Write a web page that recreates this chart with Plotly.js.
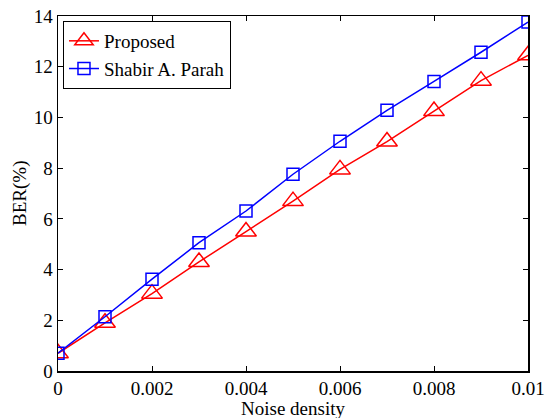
<!DOCTYPE html>
<html>
<head>
<meta charset="utf-8">
<script src="https://cdn.plot.ly/plotly-3.0.1.min.js"></script>
<style>html,body{margin:0;padding:0;background:#fff;}#chart{width:553px;height:418px;}</style>
</head>
<body>
<div id="chart"></div>
<script>
const noiseDensity = [0, 0.001, 0.002, 0.003, 0.004, 0.005, 0.006, 0.007, 0.008, 0.009, 0.01];
const proposedBER = [0.7, 1.9, 3.05, 4.3, 5.5, 6.7, 7.95, 9.05, 10.25, 11.45, 12.45];
const parahBER = [0.7, 2.14, 3.62, 5.06, 6.31, 7.76, 9.06, 10.28, 11.42, 12.57, 13.76];
const seriesNames = ["Proposed", "Shabir A. Parah"];
const xTicks = [0, 0.002, 0.004, 0.006, 0.008, 0.01];
const xTickLabels = ["0", "0.002", "0.004", "0.006", "0.008", "0.01"];
const yTicks = [0, 2, 4, 6, 8, 10, 12, 14];
const xTitle = "Noise density";
const yTitle = "BER(%)";

const font = {family: "Liberation Serif", size: 19, color: "#000"};

const traces = [
  {x: noiseDensity, y: proposedBER, name: seriesNames[0], type: "scatter", mode: "lines+markers",
   line: {color: "#ff0000", width: 1.5},
   marker: {symbol: "triangle-up-open", size: 18, color: "#ff0000", line: {width: 1.5, color: "#ff0000"}}},
  {x: noiseDensity, y: parahBER, name: seriesNames[1], type: "scatter", mode: "lines+markers",
   line: {color: "#0000ff", width: 1.5},
   marker: {symbol: "square-open", size: 12, color: "#0000ff", line: {width: 1.5, color: "#0000ff"}}}
];

const layout = {
  width: 553, height: 418,
  margin: {l: 58, r: 25, t: 16, b: 47},
  paper_bgcolor: "#fff", plot_bgcolor: "#fff",
  font: font,
  showlegend: true,
  legend: {x: 0.0106, y: 0.986, xanchor: "left", yanchor: "top",
    bordercolor: "#000", borderwidth: 1, bgcolor: "#fff", font: font,
    tracegroupgap: 0},
  xaxis: {range: [0, 0.01], tickvals: xTicks, ticktext: xTickLabels,
    ticks: "inside", ticklen: 5, tickcolor: "#000", tickwidth: 1,
    showline: true, linecolor: "#000", linewidth: 1.5, mirror: "ticks",
    showgrid: false, zeroline: false, automargin: false,
    tickfont: font},
  yaxis: {range: [0, 14], tickvals: yTicks,
    ticks: "inside", ticklen: 5, tickcolor: "#000", tickwidth: 1,
    showline: true, linecolor: "#000", linewidth: 1.5, mirror: "ticks",
    showgrid: false, zeroline: false, automargin: false,
    tickfont: font},
  annotations: [
    {text: xTitle, xref: "paper", yref: "paper", x: 0.5, y: -0.106, xanchor: "center", yanchor: "middle",
     showarrow: false, font: font},
    {text: yTitle, xref: "paper", yref: "paper", x: -0.082, y: 0.5, xanchor: "center", yanchor: "middle",
     textangle: -90, showarrow: false, font: font}
  ]
};

Plotly.newPlot("chart", traces, layout, {displayModeBar: false, staticPlot: true});
</script>
</body>
</html>
